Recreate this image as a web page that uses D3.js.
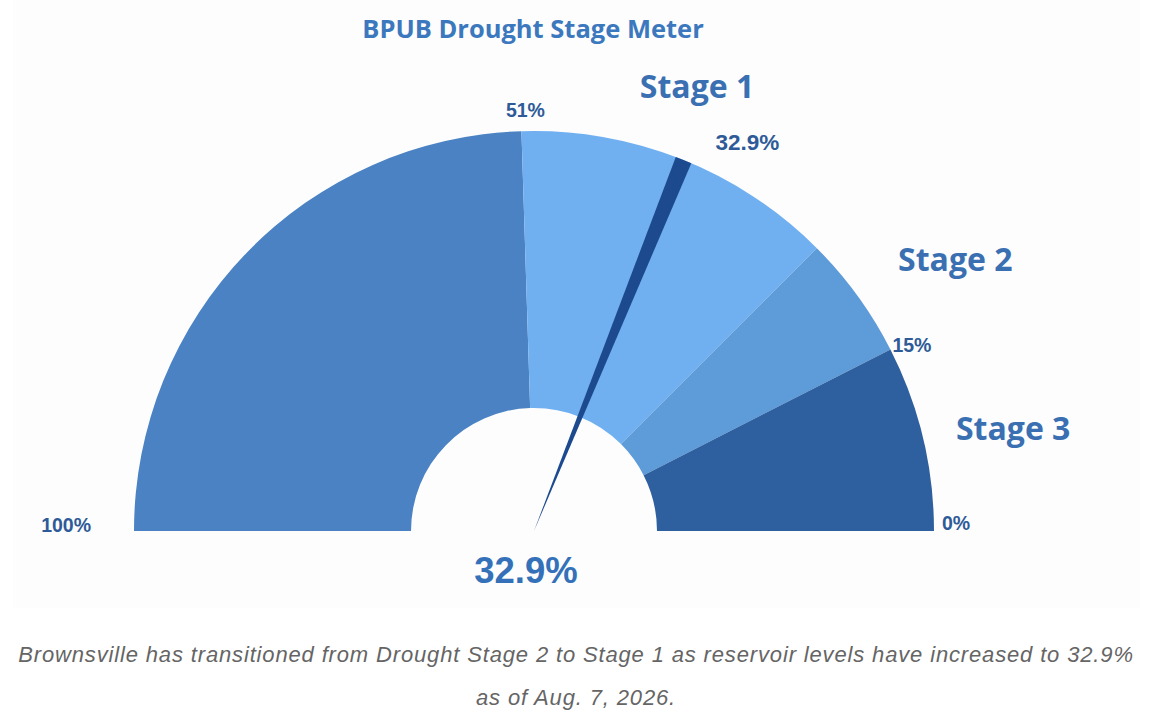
<!DOCTYPE html>
<html lang="en">
<head>
<meta charset="utf-8">
<title>BPUB Drought Stage Meter</title>
<script src="https://d3js.org/d3.v7.min.js"></script>
<style>
  body { margin: 0; background: #fff; }
</style>
</head>
<body>
<script>
// meter bands, in percent of reservoir capacity
const bandFrom = [100, 51, 25, 15];
const bandTo = [51, 25, 15, 0];
const bandColors = ["#4a82c3", "#70b0f0", "#5e9bd9", "#2e5f9f"];

const tickValues = [100, 51, 15, 0];
const tickLabels = ["100%", "51%", "15%", "0%"];

const stageNames = ["Stage 1", "Stage 2", "Stage 3"];

const reading = 32.9;      // current reservoir level
const needleAt = 37.8;     // where the pointer sits on the dial in the picture

const title = "BPUB Drought Stage Meter";
const caption = [
  "Brownsville has transitioned from Drought Stage 2 to Stage 1 as reservoir levels have increased to 32.9%",
  "as of Aug. 7, 2026."
];

// layout
const width = 1152, height = 721;
const cx = 534, cy = 531;
const outerR = 400, innerR = 123;

// tick label placement: offset from the rim point, anchor
const tickLayout = [
  { dx: -43, dy: 1, anchor: "end" },
  { dx: 4, dy: -14, anchor: "middle" },
  { dx: 2, dy: 3, anchor: "start" },
  { dx: 8, dy: -1, anchor: "start" }
];
// stage label placement: position on the dial (percent) and radius
const stageLayout = [
  { at: 38.8, r: 473 },
  { at: 18.2, r: 501 },
  { at: 6.7, r: 490 }
];

const svg = d3.select("body").append("svg")
  .attr("width", width)
  .attr("height", height);

svg.append("rect")
  .attr("x", 13).attr("y", 0)
  .attr("width", 1127).attr("height", 608)
  .attr("fill", "#fdfdfd");

const angle = d3.scaleLinear().domain([100, 0]).range([-Math.PI / 2, Math.PI / 2]);

function polar(v, r) {
  const a = angle(v);
  return [cx + r * Math.sin(a), cy - r * Math.cos(a)];
}

const g = svg.append("g").attr("transform", "translate(" + cx + "," + cy + ")");

const arc = d3.arc().innerRadius(innerR).outerRadius(outerR);

g.selectAll("path.band")
  .data(bandFrom)
  .enter().append("path")
    .attr("class", "band")
    .attr("d", (d, i) => arc({ startAngle: angle(d), endAngle: angle(bandTo[i]) }))
    .attr("fill", (d, i) => bandColors[i]);

// needle: thin wedge from the hub out to the rim
const needleHalf = 1.2 * Math.PI / 180;
g.append("path")
  .attr("d", d3.arc().innerRadius(0).outerRadius(outerR)({
    startAngle: angle(needleAt) - needleHalf,
    endAngle: angle(needleAt) + needleHalf
  }))
  .attr("fill", "#1d4a8e");

// tick labels
svg.selectAll("text.tick")
  .data(tickValues)
  .enter().append("text")
    .attr("class", "tick")
    .attr("x", (d, i) => polar(d, outerR)[0] + tickLayout[i].dx)
    .attr("y", (d, i) => polar(d, outerR)[1] + tickLayout[i].dy)
    .attr("text-anchor", (d, i) => tickLayout[i].anchor)
    .attr("font-family", "'Liberation Sans', Arial, sans-serif")
    .attr("font-weight", "bold")
    .attr("font-size", "19.5px")
    .attr("fill", "#2e5b98")
    .text((d, i) => tickLabels[i]);

// reading next to the needle tip
const tip = polar(needleAt, outerR);
svg.append("text")
  .attr("x", tip[0] + 32)
  .attr("y", tip[1] - 10)
  .attr("font-family", "'Liberation Sans', Arial, sans-serif")
  .attr("font-weight", "bold")
  .attr("font-size", "22.5px")
  .attr("fill", "#2e5b98")
  .text(reading + "%");

// stage names
svg.selectAll("text.stage")
  .data(stageNames)
  .enter().append("text")
    .attr("class", "stage")
    .attr("x", (d, i) => polar(stageLayout[i].at, stageLayout[i].r)[0])
    .attr("y", (d, i) => polar(stageLayout[i].at, stageLayout[i].r)[1])
    .attr("dy", "0.35em")
    .attr("text-anchor", "middle")
    .attr("font-family", "'Open Sans', sans-serif")
    .attr("font-weight", "bold")
    .attr("font-size", "32px")
    .attr("fill", "#3a70b2")
    .text(d => d);

// big reading under the hub
svg.append("text")
  .attr("x", cx - 8)
  .attr("y", 583)
  .attr("text-anchor", "middle")
  .attr("font-family", "'Liberation Sans', Arial, sans-serif")
  .attr("font-weight", "bold")
  .attr("font-size", "36.5px")
  .attr("fill", "#3571b9")
  .text(reading + "%");

// title
svg.append("text")
  .attr("x", 533)
  .attr("y", 38)
  .attr("text-anchor", "middle")
  .attr("font-family", "'Open Sans', sans-serif")
  .attr("font-weight", "bold")
  .attr("font-size", "25.5px")
  .attr("fill", "#3b78be")
  .text(title);

// caption
svg.selectAll("text.caption")
  .data(caption)
  .enter().append("text")
    .attr("class", "caption")
    .attr("x", 576)
    .attr("y", (d, i) => 662 + i * 43)
    .attr("text-anchor", "middle")
    .attr("font-family", "'Liberation Sans', Arial, sans-serif")
    .attr("font-style", "italic")
    .attr("font-size", "22px")
    .attr("letter-spacing", "0.85px")
    .attr("fill", "#656565")
    .text(d => d);
</script>
</body>
</html>
